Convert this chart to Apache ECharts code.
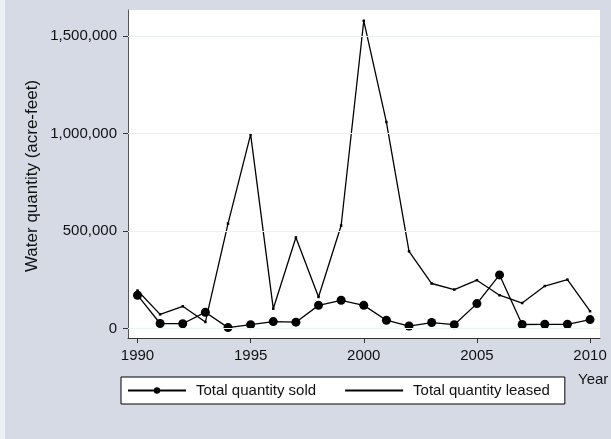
<!DOCTYPE html>
<html>
<head>
<meta charset="utf-8">
<script src="https://cdn.jsdelivr.net/npm/echarts@6/dist/echarts.min.js"></script>
<style>
  html, body { margin: 0; padding: 0; background: #d5dae5; }
  #chart { width: 611px; height: 439px; }
</style>
</head>
<body>
<div id="chart"></div>
<script>
// Annual water transfers (acre-feet)
const years = [1990, 1991, 1992, 1993, 1994, 1995, 1996, 1997, 1998, 1999, 2000,
               2001, 2002, 2003, 2004, 2005, 2006, 2007, 2008, 2009, 2010];
const sold = [171000, 26000, 25000, 84000, 5000, 20000, 36000, 33000, 119000, 145000, 119000,
              43000, 13000, 31000, 20000, 128000, 275000, 21000, 22000, 22000, 46000];
const leased = [195000, 73000, 114000, 34000, 538000, 995000, 102000, 467000, 162000, 528000, 1577000,
                1058000, 396000, 231000, 200000, 248000, 171000, 131000, 218000, 251000, 89000];
const xTicks = [1990, 1995, 2000, 2005, 2010];
const yTicks = [0, 500000, 1000000, 1500000];

const FONT = '"Liberation Sans", Arial, Helvetica, sans-serif';
const fmt = v => v.toLocaleString('en-US');

const chart = echarts.init(document.getElementById('chart'), null, { renderer: 'canvas' });

chart.setOption({
  backgroundColor: '#d5dae5',
  animation: false,
  grid: {
    left: 128, top: 10, right: 11, bottom: 101,
    show: true, backgroundColor: '#ffffff', borderWidth: 0
  },
  graphic: [
    { type: 'rect', left: 0, top: 0, shape: { width: 5, height: 439 }, style: { fill: '#eef0f5' }, z: -1 },
    {
      type: 'text', x: 32, y: 176, rotation: Math.PI / 2,
      style: {
        text: 'Water quantity (acre-feet)', font: '17px ' + FONT,
        fill: '#111', align: 'center', verticalAlign: 'middle'
      }
    },
    {
      type: 'text', x: 578, y: 380,
      style: { text: 'Year', font: '15px ' + FONT, fill: '#111', align: 'left', verticalAlign: 'middle' }
    }
  ],
  xAxis: {
    type: 'value',
    min: 1989.58, max: 2010.44,
    axisLine: { show: true, onZero: false, lineStyle: { color: '#333', width: 1 } },
    axisTick: { show: true, length: 5, customValues: xTicks, lineStyle: { color: '#333' } },
    axisLabel: {
      customValues: xTicks, margin: 10, color: '#111',
      fontFamily: FONT, fontSize: 15, formatter: v => String(v)
    },
    splitLine: { show: false }
  },
  yAxis: {
    type: 'value',
    min: -48200, max: 1632200,
    axisLine: { show: true, lineStyle: { color: '#555', width: 1 } },
    axisTick: { show: true, length: 5, customValues: yTicks, lineStyle: { color: '#333' } },
    axisLabel: {
      customValues: yTicks, margin: 11, color: '#111',
      fontFamily: FONT, fontSize: 15, formatter: v => fmt(v)
    },
    splitLine: { show: false }
  },
  legend: {
    left: 121, top: 377,
    orient: 'horizontal',
    backgroundColor: '#ffffff',
    borderColor: '#000', borderWidth: 1, borderRadius: 0,
    padding: [6, 15, 6, 6],
    itemWidth: 58, itemHeight: 8, itemGap: 28,
    textStyle: { fontFamily: FONT, fontSize: 15, color: '#111', padding: [0, 0, 0, 5] },
    data: [
      { name: 'Total quantity sold' },
      { name: 'Total quantity leased', itemStyle: { opacity: 0 } }
    ]
  },
  series: [
    {
      name: 'grid',
      type: 'line',
      data: [],
      silent: true,
      markLine: {
        symbol: 'none', silent: true, label: { show: false },
        lineStyle: { color: '#eaf2f3', width: 1, type: 'solid' },
        data: yTicks.map(v => ({ yAxis: v }))
      },
      z: 1
    },
    {
      name: 'Total quantity sold',
      type: 'line',
      data: years.map((y, i) => [y, sold[i]]),
      symbol: 'circle', symbolSize: 9,
      itemStyle: { color: '#000' },
      lineStyle: { color: '#000', width: 1.3 },
      z: 3
    },
    {
      name: 'Total quantity leased',
      type: 'line',
      data: years.map((y, i) => [y, leased[i]]),
      symbol: 'rect', symbolSize: 2.5,
      itemStyle: { color: '#000' },
      lineStyle: { color: '#000', width: 1.3 },
      z: 2
    }
  ]
});
</script>
</body>
</html>
